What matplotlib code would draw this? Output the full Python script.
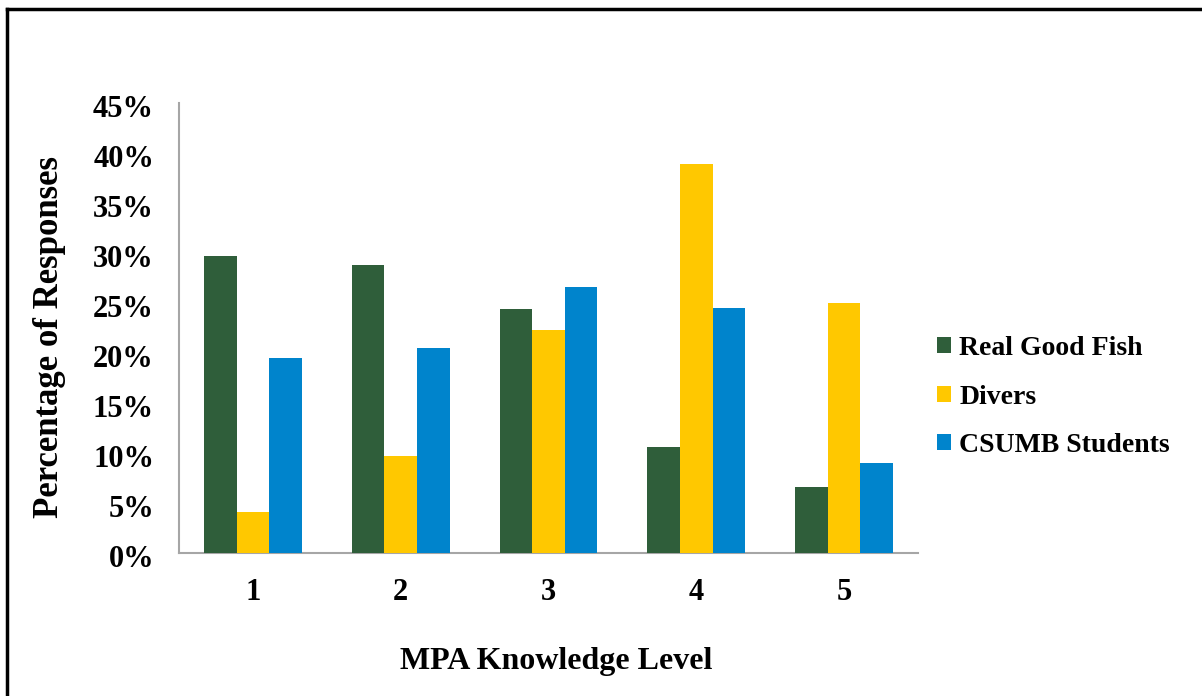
import matplotlib
matplotlib.use("Agg")
import matplotlib.pyplot as plt
import matplotlib.transforms as mtransforms
import numpy as np
from matplotlib.lines import Line2D

categories = ["1", "2", "3", "4", "5"]
series_names = ["Real Good Fish", "Divers", "CSUMB Students"]
real_good_fish = [29.7, 28.8, 24.4, 10.6, 6.6]
divers = [4.1, 9.7, 22.3, 38.9, 25.0]
csumb = [19.5, 20.5, 26.6, 24.5, 9.0]
yticks = [0, 5, 10, 15, 20, 25, 30, 35, 40, 45]
ytick_labels = [f"{v}%" for v in yticks]
colors = ["#2f5e3a", "#ffc800", "#0084cc"]

plt.rcParams['font.family'] = ['Liberation Serif', 'DejaVu Serif']
plt.rcParams['font.weight'] = 'bold'

W, H = 1202, 696
fig = plt.figure(figsize=(W / 100, H / 100), dpi=100)
ax = fig.add_axes([179 / W, (H - 553) / H, (918 - 179) / W, (553 - 103) / H])

x = np.arange(len(categories))
bw = 0.221
for i, (vals, name) in enumerate(zip([real_good_fish, divers, csumb], series_names)):
    ax.bar(x + (i - 1) * bw, vals, width=bw, color=colors[i], label=name, zorder=3)

ax.set_xlim(-0.5, len(categories) - 0.5)
ax.set_ylim(0, 45)
ax.set_yticks(yticks)
ax.set_yticklabels(ytick_labels, fontsize=22, fontweight='bold')
ax.set_xticks(x)
ax.set_xticklabels(categories, fontsize=22, fontweight='bold')
ax.tick_params(axis='both', length=0)
ax.tick_params(axis='y', pad=18)
ax.tick_params(axis='x', pad=18)
offset = mtransforms.ScaledTranslation(0, -3 / 100, fig.dpi_scale_trans)
for lbl in ax.get_yticklabels():
    lbl.set_transform(lbl.get_transform() + offset)
for s in ['top', 'right']:
    ax.spines[s].set_visible(False)
for s in ['left', 'bottom']:
    ax.spines[s].set_color('#a6a6a6')
    ax.spines[s].set_linewidth(1.5)

fig.text(50 / W, (H - 337) / H, "Percentage of Responses", fontsize=25,
         fontweight='bold', ha='center', va='center', rotation=90)
fig.text(556 / W, (H - 662) / H, "MPA Knowledge Level", fontsize=23,
         fontweight='bold', ha='center', va='center')

leg = fig.legend(loc='center left', bbox_to_anchor=(937 / W, (H - 397) / H),
                 frameon=False, prop={'weight': 'bold', 'size': 20},
                 handlelength=0.5, handleheight=0.5, handletextpad=0.3,
                 labelspacing=0.85, borderpad=0, borderaxespad=0)

# outer border (left and top visible)
fig.add_artist(Line2D([7 / W, 7 / W], [0, (H - 9) / H], color='black', lw=2.5,
                      transform=fig.transFigure))
fig.add_artist(Line2D([7 / W, 1], [(H - 9) / H, (H - 9) / H], color='black', lw=2.5,
                      transform=fig.transFigure))

fig.savefig("out.png", dpi=100)
